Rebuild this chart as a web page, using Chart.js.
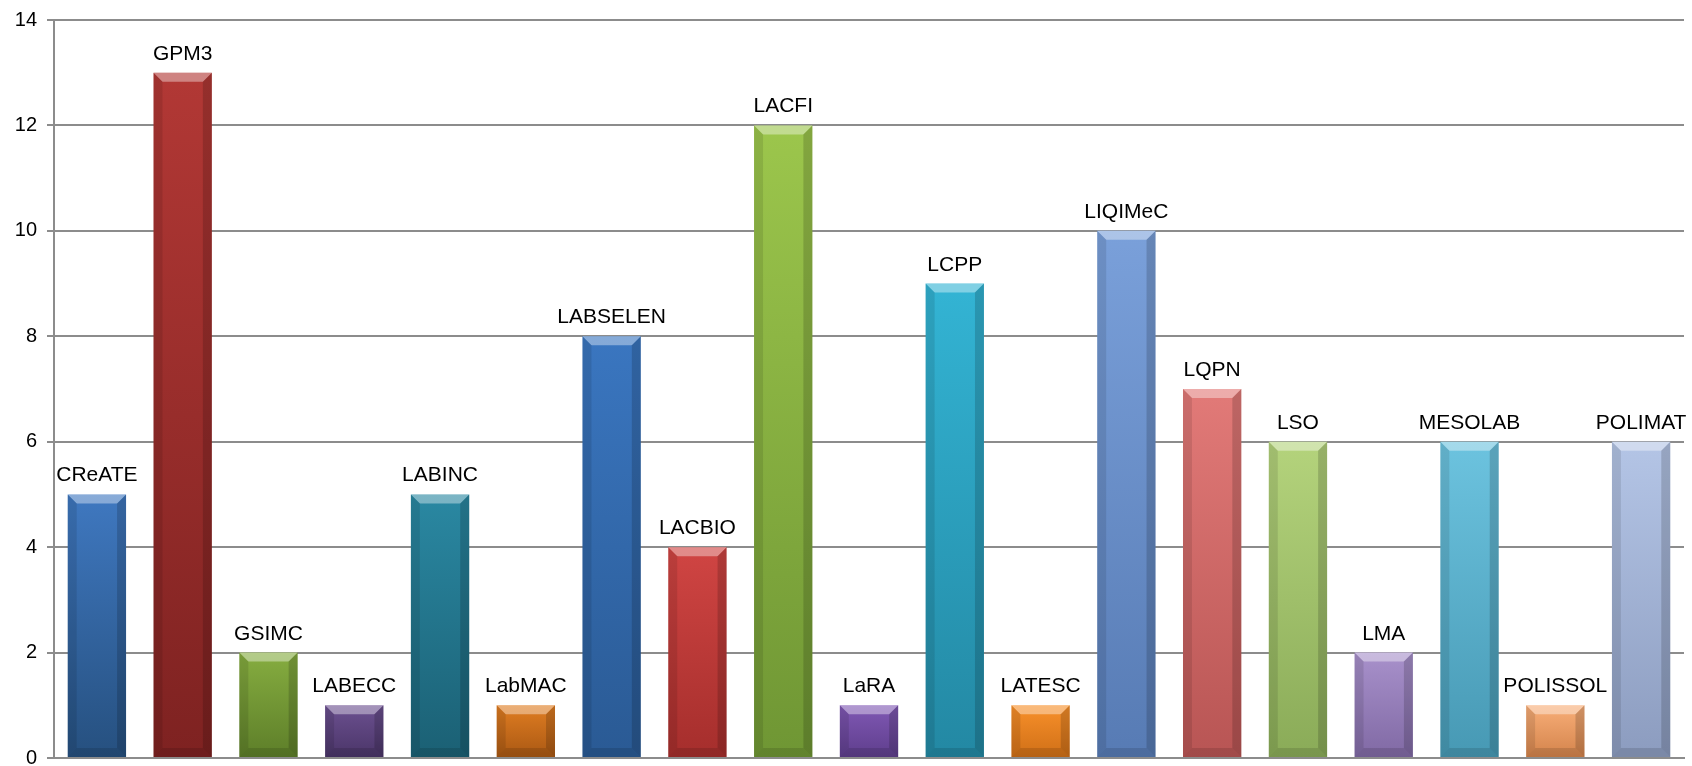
<!DOCTYPE html>
<html>
<head>
<meta charset="utf-8">
<script src="https://cdn.jsdelivr.net/npm/chart.js@4"></script>
<style>
  html, body { margin: 0; padding: 0; background: #fff; }
  #wrap { width: 1692px; height: 766px; }
</style>
</head>
<body>
<div id="wrap"><canvas id="chart"></canvas></div>
<script>
// data
const labs = ['CReATE', 'GPM3', 'GSIMC', 'LABECC', 'LABINC', 'LabMAC', 'LABSELEN', 'LACBIO', 'LACFI', 'LaRA',
  'LCPP', 'LATESC', 'LIQIMeC', 'LQPN', 'LSO', 'LMA', 'MESOLAB', 'POLISSOL', 'POLIMAT'];
const counts = [5, 13, 2, 1, 5, 1, 8, 4, 12, 1, 9, 1, 10, 7, 6, 2, 6, 1, 6];
const yTicks = [0, 2, 4, 6, 8, 10, 12, 14];

// office-ish palette, one colour per bar (top, bottom)
const barColors = [
  ['#3f78c0', '#26507f'], ['#b23835', '#7e2221'], ['#86ad40', '#5d7e29'], ['#6c5090', '#4a3568'],
  ['#2a88a2', '#1b6074'], ['#e07d22', '#a95813'], ['#3a76c0', '#2a5a94'], ['#d04543', '#a52e2c'],
  ['#9cc64c', '#6f9634'], ['#8058b4', '#5e3e8c'], ['#33b4d4', '#2388a3'], ['#f8902a', '#cf6f17'],
  ['#7aa0da', '#577bb4'], ['#e27a78', '#b85554'], ['#b4d37c', '#8aab58'], ['#a891cb', '#8069a4'],
  ['#6cc3df', '#4799b4'], ['#f8ae78', '#d3834b'], ['#b4c5e6', '#8c9cbf']
];

// bevel look: light top edge, darker bottom and sides
const bevel = {
  id: 'bevel',
  afterDatasetsDraw(chart) {
    const ctx = chart.ctx;
    chart.getDatasetMeta(0).data.forEach((bar) => {
      const l = bar.x - bar.width / 2, r = bar.x + bar.width / 2;
      const t = bar.y, b = bar.base;
      const s = Math.min(9, (b - t) / 2);
      const poly = (pts, fill) => {
        ctx.beginPath();
        ctx.moveTo(pts[0][0], pts[0][1]);
        pts.slice(1).forEach((p) => ctx.lineTo(p[0], p[1]));
        ctx.closePath();
        ctx.fillStyle = fill;
        ctx.fill();
      };
      ctx.save();
      poly([[l, t], [r, t], [r - s, t + s], [l + s, t + s]], 'rgba(255,255,255,0.38)');
      poly([[l, b], [r, b], [r - s, b - s], [l + s, b - s]], 'rgba(0,0,0,0.12)');
      poly([[l, t], [l + s, t + s], [l + s, b - s], [l, b]], 'rgba(0,0,0,0.10)');
      poly([[r, t], [r - s, t + s], [r - s, b - s], [r, b]], 'rgba(0,0,0,0.16)');
      ctx.restore();
    });
  }
};

// category names written above each bar
const barLabels = {
  id: 'barLabels',
  afterDatasetsDraw(chart) {
    const ctx = chart.ctx;
    ctx.save();
    ctx.font = '21px "Liberation Sans", Arial, sans-serif';
    ctx.fillStyle = '#000';
    ctx.textAlign = 'center';
    ctx.textBaseline = 'alphabetic';
    chart.getDatasetMeta(0).data.forEach((bar, i) => {
      ctx.fillText(labs[i], bar.x, bar.y - 13);
    });
    ctx.restore();
  }
};

new Chart(document.getElementById('chart'), {
  type: 'bar',
  data: {
    labels: labs,
    datasets: [{
      data: counts,
      backgroundColor: (c) => {
        const chart = c.chart;
        const area = chart.chartArea;
        if (!area || c.dataIndex === undefined) return barColors[0][0];
        const col = barColors[c.dataIndex];
        const top = chart.scales.y.getPixelForValue(c.raw);
        const g = chart.ctx.createLinearGradient(0, top, 0, area.bottom);
        g.addColorStop(0, col[0]);
        g.addColorStop(1, col[1]);
        return g;
      },
      borderWidth: 0,
      barPercentage: 0.68,
      categoryPercentage: 1.0
    }]
  },
  options: {
    responsive: true,
    maintainAspectRatio: false,
    animation: false,
    layout: { padding: { top: 20, right: 8, bottom: 8, left: 0 } },
    plugins: { legend: { display: false }, tooltip: { enabled: false } },
    scales: {
      x: {
        grid: { display: false, drawTicks: false },
        border: { display: true, color: '#8c8c8c', width: 2 },
        ticks: { display: false }
      },
      y: {
        min: 0,
        max: 14,
        afterBuildTicks: (s) => { s.ticks = yTicks.map((v) => ({ value: v })); },
        afterFit: (s) => {
          s.width = 54;
          // let the 0 and 14 labels hang over the edges like the original
          s.paddingTop = 0;
          s.paddingBottom = 0;
        },
        grid: { color: '#8c8c8c', lineWidth: 2, tickLength: 7 },
        border: { display: true, color: '#8c8c8c', width: 2 },
        ticks: {
          color: '#000',
          padding: 10,
          font: { family: '"Liberation Sans", Arial, sans-serif', size: 20 }
        }
      }
    }
  },
  plugins: [bevel, barLabels]
});
</script>
</body>
</html>
